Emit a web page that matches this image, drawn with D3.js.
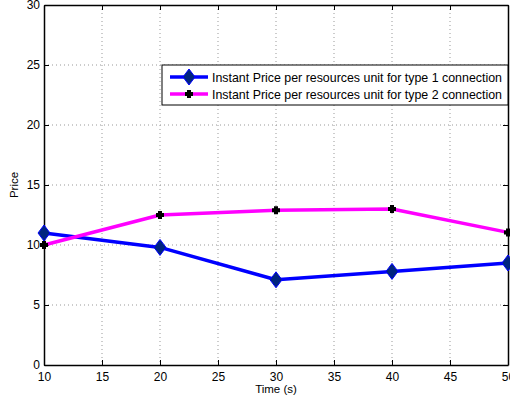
<!DOCTYPE html>
<html>
<head>
<meta charset="utf-8">
<script src="https://cdn.jsdelivr.net/npm/d3@7"></script>
<style>
  body { margin: 0; background: #fff; }
  svg { display: block; font-family: "Liberation Sans", Arial, sans-serif; }
</style>
</head>
<body>
<div id="container"></div>
<script>
// data
let times = [10, 20, 30, 40, 50];
let price1 = [11.0, 9.8, 7.1, 7.8, 8.5];
let price2 = [10.0, 12.5, 12.9, 13.0, 11.05];
let xTicks = [10, 15, 20, 25, 30, 35, 40, 45, 50];
let yTicks = [0, 5, 10, 15, 20, 25, 30];
let seriesNames = [
  "Instant Price per resources unit for type 1 connection",
  "Instant Price per resources unit for type 2 connection"
];

let w = 510;
let h = 401;
let plotLeft = 44, plotRight = 508, plotTop = 5, plotBottom = 365;

let viz = d3.select("#container")
  .append("svg")
    .attr("width", w)
    .attr("height", h)
;

let xScale = d3.scaleLinear().domain([10, 50]).range([plotLeft, plotRight]);
let yScale = d3.scaleLinear().domain([0, 30]).range([plotBottom, plotTop]);

// grid
let grid = viz.append("g").attr("class", "grid");
grid.selectAll(".vg").data(xTicks.slice(1, -1)).enter()
  .append("line")
    .attr("x1", d => xScale(d)).attr("x2", d => xScale(d))
    .attr("y1", plotTop).attr("y2", plotBottom)
    .attr("stroke", "#999").attr("stroke-width", 1)
    .attr("stroke-dasharray", "1,3");
grid.selectAll(".hg").data(yTicks.slice(1, -1)).enter()
  .append("line")
    .attr("y1", d => yScale(d)).attr("y2", d => yScale(d))
    .attr("x1", plotLeft).attr("x2", plotRight)
    .attr("stroke", "#999").attr("stroke-width", 1)
    .attr("stroke-dasharray", "1,3");

// axes (ticks inward, on all sides)
let xAxis = d3.axisBottom(xScale).tickValues(xTicks).tickSizeInner(-5).tickSizeOuter(0).tickPadding(7);
viz.append("g").attr("transform", "translate(0," + plotBottom + ")").call(xAxis);
let xTopAxis = d3.axisTop(xScale).tickValues(xTicks).tickSizeInner(-5).tickSizeOuter(0).tickFormat("");
viz.append("g").attr("transform", "translate(0," + plotTop + ")").call(xTopAxis);
let yAxis = d3.axisLeft(yScale).tickValues(yTicks).tickSizeInner(-5).tickSizeOuter(0).tickPadding(4);
viz.append("g").attr("transform", "translate(" + plotLeft + ",0)").call(yAxis);
let yRightAxis = d3.axisRight(yScale).tickValues(yTicks).tickSizeInner(-5).tickSizeOuter(0).tickFormat("");
viz.append("g").attr("transform", "translate(" + plotRight + ",0)").call(yRightAxis);

viz.selectAll(".domain").attr("stroke", "#000").attr("stroke-width", 1.5);
viz.selectAll(".tick line").attr("stroke", "#000");
viz.selectAll(".tick text").attr("font-size", 12).attr("fill", "#000")
  .attr("font-family", "Liberation Sans, Arial, sans-serif");

// axis labels
viz.append("text")
  .attr("x", (plotLeft + plotRight) / 2).attr("y", 393)
  .attr("text-anchor", "middle").attr("font-size", 11.5)
  .text("Time (s)");
viz.append("text")
  .attr("transform", "translate(18," + (plotTop + plotBottom) / 2 + ") rotate(-90)")
  .attr("text-anchor", "middle").attr("font-size", 11.5)
  .text("Price");

// lines
let line = d3.line().x((d, i) => xScale(times[i])).y(d => yScale(d));

let graphgroup = viz.append("g").attr("class", "graphgroup");
graphgroup.append("path").datum(price1)
  .attr("d", line).attr("fill", "none")
  .attr("stroke", "#0000ff").attr("stroke-width", 3.5).attr("stroke-linejoin", "round");
graphgroup.append("path").datum(price2)
  .attr("d", line).attr("fill", "none")
  .attr("stroke", "#ff00ff").attr("stroke-width", 3.5).attr("stroke-linejoin", "round");

function diamond(sel) {
  sel.append("path")
    .attr("d", "M0,-8L6,0L0,8L-6,0Z")
    .attr("fill", "#00247f").attr("stroke", "#0000ff").attr("stroke-width", 1);
}
function plusMark(sel) {
  sel.append("path")
    .attr("d", "M-2,-4H2V-2H4V2H2V4H-2V2H-4V-2H-2Z")
    .attr("fill", "#000");
}

graphgroup.selectAll(".m1").data(price1).enter()
  .append("g")
    .attr("transform", (d, i) => "translate(" + xScale(times[i]) + "," + yScale(d) + ")")
    .call(diamond);
graphgroup.selectAll(".m2").data(price2).enter()
  .append("g")
    .attr("transform", (d, i) => "translate(" + xScale(times[i]) + "," + yScale(d) + ")")
    .call(plusMark);

// legend
let legend = viz.append("g").attr("class", "legend");
legend.append("rect")
  .attr("x", 162).attr("y", 65).attr("width", 346).attr("height", 40)
  .attr("fill", "#fff").attr("stroke", "#000").attr("stroke-width", 1);
let colors = ["#0000ff", "#ff00ff"];
seriesNames.forEach(function(name, i) {
  let y = 77 + i * 17;
  legend.append("line")
    .attr("x1", 170).attr("x2", 208).attr("y1", y).attr("y2", y)
    .attr("stroke", colors[i]).attr("stroke-width", 3.5);
  let g = legend.append("g").attr("transform", "translate(189," + y + ")");
  if (i == 0) g.call(diamond); else g.call(plusMark);
  legend.append("text")
    .attr("x", 212).attr("y", y + 4.5)
    .attr("font-size", 12.4)
    .text(name);
});
</script>
</body>
</html>
